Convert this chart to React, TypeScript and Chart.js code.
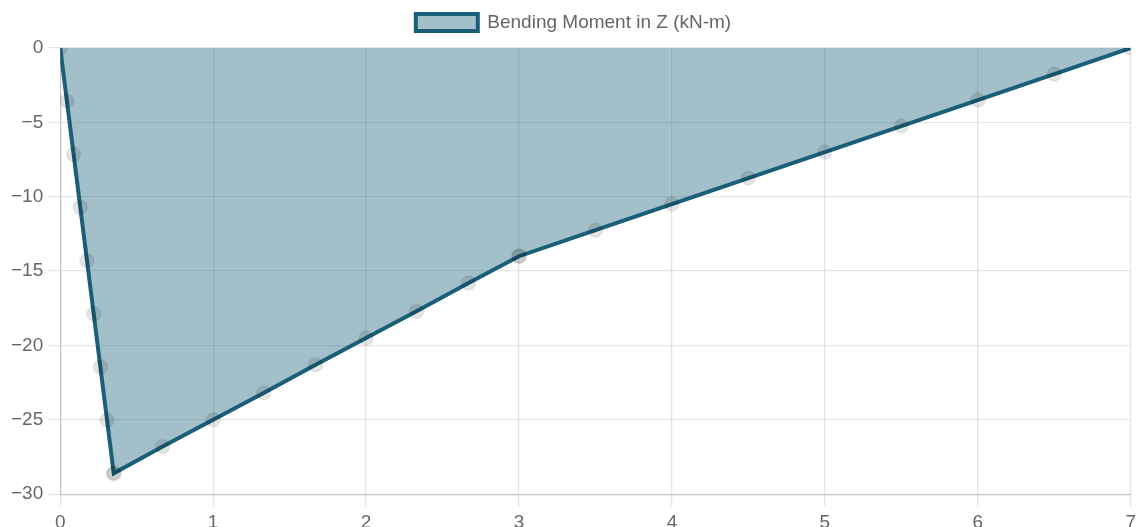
import { useEffect, useRef } from "react";
import { Chart, registerables } from "chart.js";

Chart.register(...registerables);

const positions: number[] = [
  0, 0.04375, 0.0875, 0.13125, 0.175, 0.21875, 0.2625, 0.30625, 0.35,
  0.35, 0.67, 1, 1.33, 1.67, 2, 2.33, 2.67, 3,
  3, 3.5, 4, 4.5, 5, 5.5, 6, 6.5, 7,
];
const moments: number[] = [
  0, -3.575, -7.15, -10.725, -14.3, -17.875, -21.45, -25.025, -28.6,
  -28.6, -26.8, -25.0, -23.2, -21.3, -19.5, -17.7, -15.8, -14.0,
  -14.0, -12.25, -10.5, -8.75, -7.0, -5.25, -3.5, -1.75, 0,
];
const seriesLabel = "Bending Moment in Z (kN-m)";
const xTicks = { min: 0, max: 7, step: 1 };
const yTicks = { min: -30, max: 0, step: 5 };

export default function App() {
  const ref = useRef<HTMLCanvasElement | null>(null);
  useEffect(() => {
    document.body.style.margin = "0";
    document.body.style.overflow = "hidden";
    document.documentElement.style.overflow = "hidden";
    if (!ref.current) return;
    const font = { family: "'Liberation Sans', Arial, sans-serif", size: 19 };
    const fmt = (v: number | string) => String(v).replace("-", "\u2212");
    const grid = { color: "rgba(0,0,0,0.1)", lineWidth: 1.3, tickLength: 12 };
    const legendMargin = {
      id: "legendMargin",
      beforeInit(chart: any) {
        const lg = chart.legend;
        if (!lg) return;
        const orig = lg.fit;
        lg.fit = function () {
          orig.call(this);
          this.height += 6;
        };
      },
    };
    const chart = new Chart(ref.current, {
      type: "line",
      data: {
        datasets: [
          {
            label: seriesLabel,
            data: positions.map((x, i) => ({ x, y: moments[i] })),
            borderColor: "rgb(26,94,120)",
            backgroundColor: "rgba(26,94,120,0.4)",
            borderWidth: 4,
            fill: "origin",
            tension: 0,
            pointRadius: 7,
            pointBackgroundColor: "rgba(0,0,0,0.1)",
            pointBorderColor: "rgba(0,0,0,0.06)",
            pointBorderWidth: 2,
          },
        ],
      },
      options: {
        animation: false,
        responsive: false,
        layout: { padding: { left: 6, right: 0, top: 0, bottom: -12 } },
        plugins: {
          legend: {
            labels: {
              font,
              color: "#666",
              boxWidth: 62,
              boxHeight: 17,
              padding: 13,
            },
          },
          tooltip: { enabled: false },
        },
        scales: {
          x: {
            type: "linear",
            min: xTicks.min,
            max: xTicks.max,
            ticks: { stepSize: xTicks.step, font, color: "#666", padding: 5, callback: fmt },
            grid,
            border: { color: "rgba(0,0,0,0.15)", width: 1.3 },
          },
          y: {
            min: yTicks.min,
            max: yTicks.max,
            ticks: { stepSize: yTicks.step, font, color: "#666", padding: 5, callback: fmt },
            grid,
            border: { color: "rgba(0,0,0,0.15)", width: 1.3 },
          },
        },
      },
      plugins: [legendMargin],
    });
    return () => chart.destroy();
  }, []);
  return <canvas ref={ref} width={1141} height={527} style={{ display: "block" }} />;
}
